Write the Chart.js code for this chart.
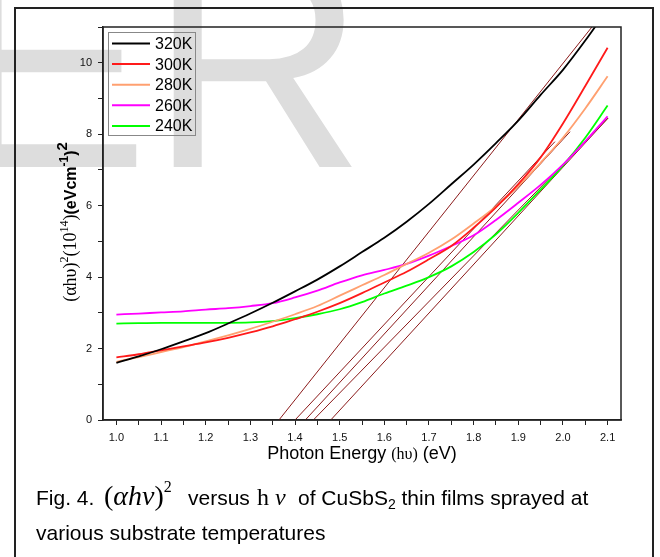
<!DOCTYPE html>
<html>
<head>
<meta charset="utf-8">
<script src="https://cdn.jsdelivr.net/npm/chart.js@4"></script>
<style>
  html, body { margin: 0; padding: 0; background: #fff; }
  #wrap { width: 660px; height: 557px; }
</style>
</head>
<body>
<div id="wrap"><canvas id="absChart" width="660" height="557"></canvas></div>
<script>
// photon energy (eV)
const energies = [1.0, 1.05, 1.1, 1.15, 1.2, 1.25, 1.3, 1.35, 1.4, 1.45, 1.5, 1.55,
                  1.6, 1.65, 1.7, 1.75, 1.8, 1.85, 1.9, 1.95, 2.0, 2.05, 2.1];
// (alpha h nu)^2 in 1e14 (eV cm^-1)^2
const k320 = [1.6, 1.78, 1.98, 2.2, 2.43, 2.7, 2.98, 3.28, 3.6, 3.93, 4.3, 4.7,
              5.1, 5.55, 6.05, 6.6, 7.15, 7.75, 8.38, 9.1, 9.8, 10.62, 11.5];
const k300 = [1.75, 1.84, 1.95, 2.06, 2.17, 2.3, 2.45, 2.62, 2.82, 3.03, 3.27, 3.55,
              3.85, 4.15, 4.5, 4.87, 5.38, 5.95, 6.6, 7.35, 8.3, 9.35, 10.42];
const k280 = [1.63, 1.76, 1.9, 2.04, 2.2, 2.37, 2.55, 2.75, 2.96, 3.19, 3.48, 3.77,
              4.06, 4.37, 4.68, 5.05, 5.5, 5.98, 6.55, 7.2, 7.9, 8.72, 9.62];
const k260 = [2.95, 2.98, 3.01, 3.04, 3.09, 3.13, 3.19, 3.27, 3.43, 3.62, 3.85, 4.05,
              4.2, 4.37, 4.6, 4.87, 5.17, 5.6, 6.08, 6.58, 7.15, 7.8, 8.5];
const k240 = [2.7, 2.71, 2.72, 2.72, 2.72, 2.72, 2.73, 2.77, 2.85, 2.96, 3.1, 3.3,
              3.54, 3.76, 4.0, 4.3, 4.7, 5.2, 5.8, 6.45, 7.12, 7.9, 8.8];
const seriesLabels = ['320K', '300K', '280K', '260K', '240K'];
const seriesColors = ['#000000', '#ff1a1a', '#ffa070', '#ff00ff', '#00ff00'];
// linear extrapolation lines: start (x-intercept) and end points
const fitX0 = [1.364, 1.400, 1.423, 1.441, 1.480];
const fitX1 = [2.07, 1.982, 2.016, 2.101, 2.101];
const fitY1 = [11.08, 7.79, 8.07, 8.45, 8.45];

const curves = [k320, k300, k280, k260, k240];
const datasets = curves.map((ys, i) => ({
  label: seriesLabels[i],
  data: energies.map((x, j) => ({ x, y: ys[j] })),
  borderColor: seriesColors[i],
  borderWidth: 1.8,
  pointRadius: 0,
  cubicInterpolationMode: 'monotone',
  fill: false
}));
fitX0.forEach((x0, i) => {
  datasets.push({
    label: 'fit',
    data: [{ x: x0, y: 0 }, { x: fitX1[i], y: fitY1[i] }],
    borderColor: '#8b1a1a',
    borderWidth: 1,
    pointRadius: 0,
    fill: false
  });
});

const SANS = "Arial, 'Liberation Sans', sans-serif";
const SERIF = "'Times New Roman', 'Liberation Serif', serif";

function drawPieces(ctx, pieces, x, y) {
  pieces.forEach(p => {
    ctx.font = p.font;
    ctx.fillText(p.t, x, y + (p.dy || 0));
    x += ctx.measureText(p.t).width;
  });
  return x;
}
function piecesWidth(ctx, pieces) {
  let w = 0;
  pieces.forEach(p => { ctx.font = p.font; w += ctx.measureText(p.t).width; });
  return w;
}

const decor = {
  id: 'decor',
  beforeDraw(chart) {
    const ctx = chart.ctx;
    ctx.save();
    // background watermark
    ctx.fillStyle = '#dddddd';
    ctx.font = '300px ' + SANS;
    ctx.textBaseline = 'alphabetic';
    ctx.fillText('ER', -51, 167);
    // outer frame
    ctx.strokeStyle = '#222';
    ctx.lineWidth = 2;
    ctx.strokeRect(15, 8, 638, 600);
    ctx.restore();
  },
  afterDraw(chart) {
    const ctx = chart.ctx;
    const a = chart.chartArea;
    ctx.save();
    // plot box
    ctx.strokeStyle = '#222';
    ctx.lineWidth = 1.5;
    ctx.strokeRect(a.left, a.top, a.right - a.left, a.bottom - a.top);

    // legend
    ctx.strokeStyle = '#888';
    ctx.lineWidth = 1;
    ctx.strokeRect(108.5, 32.5, 87, 103);
    ctx.font = '16px ' + SANS;
    ctx.textBaseline = 'middle';
    seriesLabels.forEach((lab, i) => {
      const y = 43.5 + i * 20.6;
      ctx.strokeStyle = seriesColors[i];
      ctx.lineWidth = 2;
      ctx.beginPath();
      ctx.moveTo(112, y);
      ctx.lineTo(150, y);
      ctx.stroke();
      ctx.fillStyle = '#000';
      ctx.fillText(lab, 155, y + 1);
    });

    ctx.textBaseline = 'alphabetic';
    ctx.fillStyle = '#000';
    // x axis title
    const xt = [
      { t: 'Photon Energy ', font: '18px ' + SANS },
      { t: '(hυ)', font: '16px ' + SERIF },
      { t: ' (eV)', font: '18px ' + SANS }
    ];
    drawPieces(ctx, xt, 362 - piecesWidth(ctx, xt) / 2, 459);

    // y axis title
    const yt = [
      { t: '(αhυ)', font: '18px ' + SERIF },
      { t: '2', font: '12px ' + SERIF, dy: -8 },
      { t: '(10', font: '18px ' + SERIF },
      { t: '14', font: '12px ' + SERIF, dy: -8 },
      { t: ')', font: '18px ' + SERIF },
      { t: '(eVcm', font: 'bold 16px ' + SANS },
      { t: '-1', font: 'bold 12px ' + SANS, dy: -8 },
      { t: ')', font: 'bold 16px ' + SANS },
      { t: '2', font: 'bold 15px ' + SANS, dy: -9 }
    ];
    ctx.translate(76, 222);
    ctx.rotate(-Math.PI / 2);
    drawPieces(ctx, yt, -piecesWidth(ctx, yt) / 2, 0);
    ctx.setTransform(1, 0, 0, 1, 0, 0);

    // caption
    drawPieces(ctx, [{ t: 'Fig. 4.', font: '21px ' + SANS }], 36, 505);
    drawPieces(ctx, [
      { t: '(', font: '28px ' + SERIF },
      { t: 'αhν', font: 'italic 28px ' + SERIF },
      { t: ')', font: '28px ' + SERIF },
      { t: '2', font: '16px ' + SERIF, dy: -13 }
    ], 104, 505);
    drawPieces(ctx, [{ t: 'versus', font: '21px ' + SANS }], 188, 505);
    drawPieces(ctx, [{ t: 'h ', font: '24px ' + SERIF }, { t: 'ν', font: 'italic 24px ' + SERIF }], 257, 505);
    drawPieces(ctx, [
      { t: 'of CuSbS', font: '21px ' + SANS },
      { t: '2', font: '14px ' + SANS, dy: 4 },
      { t: ' thin films sprayed at', font: '21px ' + SANS }
    ], 298, 505);
    drawPieces(ctx, [{ t: 'various substrate temperatures', font: '21px ' + SANS }], 36, 540);
    ctx.restore();
  }
};

new Chart(document.getElementById('absChart'), {
  type: 'line',
  data: { datasets },
  plugins: [decor],
  options: {
    responsive: false,
    animation: false,
    layout: { padding: { top: 27, right: 39, left: 0, bottom: 0 } },
    plugins: { legend: { display: false }, tooltip: { enabled: false } },
    scales: {
      x: {
        type: 'linear', min: 0.97, max: 2.13,
        afterFit: s => { s.height = 137; },
        ticks: {
          stepSize: 0.05, includeBounds: false, autoSkip: false, maxRotation: 0, padding: 6,
          color: '#111', font: { family: SANS, size: 11 },
          callback: v => (Math.round(v * 100) % 10 === 0 ? v.toFixed(1) : '')
        },
        grid: { drawOnChartArea: false, tickLength: 5, color: '#222' },
        border: { color: '#222', width: 1.5 }
      },
      y: {
        min: 0, max: 11,
        afterFit: s => { s.width = 103; },
        ticks: {
          stepSize: 1, includeBounds: false, padding: 6,
          color: '#111', font: { family: SANS, size: 11 },
          callback: v => (Math.round(v) % 2 === 0 ? String(Math.round(v)) : '')
        },
        grid: { drawOnChartArea: false, tickLength: 5, color: '#222' },
        border: { color: '#222', width: 1.5 }
      }
    }
  }
});
</script>
</body>
</html>
